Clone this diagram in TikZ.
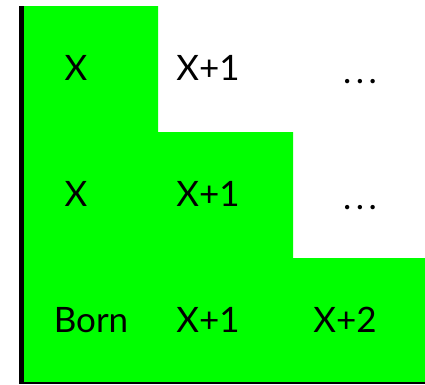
\documentclass[tikz,border=0pt]{standalone}
\usepackage{fontspec}
\setmainfont{Lato}
\definecolor{lgreen}{HTML}{00FF00}
\tikzset{
  lbl/.style={anchor=base, inner sep=0pt, font=\fontsize{35}{38}\selectfont},
}
\newcommand{\mydots}{.\kern4.5pt.\kern4.5pt.}
\begin{document}
\begin{tikzpicture}[x=1pt,y=-1pt]
\useasboundingbox (0,0) rectangle (425,384);
\fill[lgreen] (24,6) -- (158,6) -- (158,132) -- (293,132) -- (293,258) -- (425,258) -- (425,382) -- (24,382) -- cycle;
\fill[black] (19,6) rectangle (24,384);
\fill[black] (19,382) rectangle (425,384);
\node[lbl] (a1) at (76,80) {X};
\node[lbl] (a2) at (208,80) {X+1};
\node[lbl] (a3) at (360,83) {\mydots};
\node[lbl] (b1) at (76,206) {X};
\node[lbl] (b2) at (208,206) {X+1};
\node[lbl] (b3) at (360,209) {\mydots};
\node[lbl] (c1) at (91,332) {Born};
\node[lbl] (c2) at (208,332) {X+1};
\node[lbl] (c3) at (345,332) {X+2};
\end{tikzpicture}
\end{document}
